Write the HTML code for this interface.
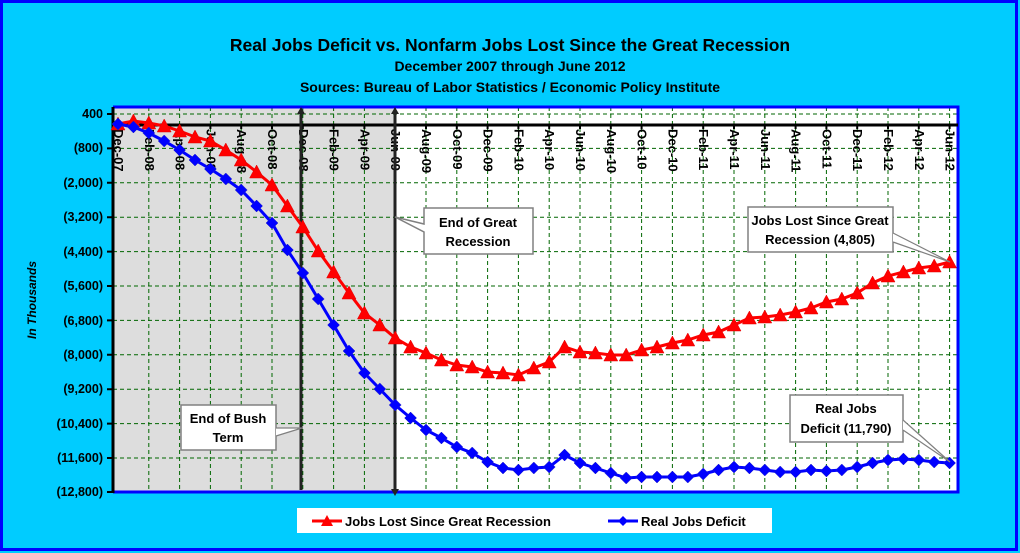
<!DOCTYPE html>
<html><head><meta charset="utf-8"><style>
html,body{margin:0;padding:0;}
body{width:1020px;height:553px;overflow:hidden;background:#00CCFF;}
svg{display:block;font-family:"Liberation Sans",Arial,sans-serif;}
</style></head><body>
<svg width="1020" height="553" viewBox="0 0 1020 553" xmlns="http://www.w3.org/2000/svg">
<defs>
<marker id="tri" markerUnits="userSpaceOnUse" markerWidth="16" markerHeight="16" refX="8" refY="8" orient="0"><path d="M8,1 L15,14 L1,14 Z" fill="#FF0000" stroke="#E00000" stroke-width="0.5"/></marker>
<marker id="dia" markerUnits="userSpaceOnUse" markerWidth="14" markerHeight="14" refX="7" refY="7" orient="0"><path d="M7,1 L13,7 L7,13 L1,7 Z" fill="#0000FF" stroke="#2020C0" stroke-width="0.5"/></marker>
<marker id="tri2" markerUnits="userSpaceOnUse" markerWidth="16" markerHeight="16" refX="8" refY="8" orient="0"><path d="M8,2 L14,13 L2,13 Z" fill="#FF0000"/></marker>
<marker id="dia2" markerUnits="userSpaceOnUse" markerWidth="14" markerHeight="14" refX="7" refY="7" orient="0"><path d="M7,2 L12,7 L7,12 L2,7 Z" fill="#0000FF"/></marker>
</defs>
<rect x="1.5" y="1.5" width="1015" height="548" fill="#00CCFF" stroke="#0000FF" stroke-width="3"/>
<text x="510" y="51" text-anchor="middle" font-size="17.5" font-weight="bold">Real Jobs Deficit vs. Nonfarm Jobs Lost Since the Great Recession</text>
<text x="510" y="71" text-anchor="middle" font-size="14" font-weight="bold">December 2007 through June 2012</text>
<text x="510" y="92" text-anchor="middle" font-size="14" font-weight="bold">Sources: Bureau of Labor Statistics / Economic Policy Institute</text>
<rect x="113" y="107" width="845" height="385" fill="#FFFFFF"/>
<rect x="113" y="107" width="282" height="385" fill="#DDDDDD"/>
<g stroke="#006600" stroke-width="1" stroke-dasharray="4,3" fill="none">
<path d="M113,114H958M113,148.4H958M113,182.8H958M113,217.2H958M113,251.6H958M113,286H958M113,320.4H958M113,354.8H958M113,389.2H958M113,423.6H958M113,458H958"/>
<path d="M148.8,107V492M179.6,107V492M210.4,107V492M241.2,107V492M272,107V492M302.8,107V492M333.6,107V492M364.4,107V492M395.2,107V492M426,107V492M456.8,107V492M487.6,107V492M518.4,107V492M549.2,107V492M580,107V492M610.8,107V492M641.6,107V492M672.4,107V492M703.2,107V492M734,107V492M764.8,107V492M795.6,107V492M826.4,107V492M857.2,107V492M888,107V492M918.8,107V492M949.6,107V492"/>
</g>
<path d="M113,107H958V492H113" fill="none" stroke="#0000FF" stroke-width="3"/>
<line x1="113" y1="107" x2="113" y2="493" stroke="#000" stroke-width="3"/>
<line x1="113" y1="125" x2="958" y2="125" stroke="#000" stroke-width="3"/>
<g stroke="#000" stroke-width="2">
<path d="M107,114H113M107,148.4H113M107,182.8H113M107,217.2H113M107,251.6H113M107,286H113M107,320.4H113M107,354.8H113M107,389.2H113M107,423.6H113M107,458H113M107,492H113"/>
<path d="M148.8,125v4M179.6,125v4M210.4,125v4M241.2,125v4M272,125v4M302.8,125v4M333.6,125v4M364.4,125v4M395.2,125v4M426,125v4M456.8,125v4M487.6,125v4M518.4,125v4M549.2,125v4M580,125v4M610.8,125v4M641.6,125v4M672.4,125v4M703.2,125v4M734,125v4M764.8,125v4M795.6,125v4M826.4,125v4M857.2,125v4M888,125v4M918.8,125v4M949.6,125v4"/>
</g>
<g font-size="12.5" font-weight="bold" text-anchor="end">
<text x="103" y="118">400</text><text x="103" y="152">(800)</text><text x="103" y="187">(2,000)</text><text x="103" y="221">(3,200)</text><text x="103" y="256">(4,400)</text><text x="103" y="290">(5,600)</text><text x="103" y="325">(6,800)</text><text x="103" y="359">(8,000)</text><text x="103" y="393">(9,200)</text><text x="103" y="428">(10,400)</text><text x="103" y="462">(11,600)</text><text x="103" y="496">(12,800)</text>
</g>
<text transform="translate(36,300) rotate(-90)" text-anchor="middle" font-size="12" font-weight="bold" font-style="italic">In Thousands</text>
<g font-size="13" font-weight="bold">
<text transform="translate(114,129) rotate(90)">Dec-07</text>
<text transform="translate(144.8,129) rotate(90)">Feb-08</text>
<text transform="translate(175.6,129) rotate(90)">Apr-08</text>
<text transform="translate(206.4,129) rotate(90)">Jun-08</text>
<text transform="translate(237.2,129) rotate(90)">Aug-08</text>
<text transform="translate(268,129) rotate(90)">Oct-08</text>
<text transform="translate(298.8,129) rotate(90)">Dec-08</text>
<text transform="translate(329.6,129) rotate(90)">Feb-09</text>
<text transform="translate(360.4,129) rotate(90)">Apr-09</text>
<text transform="translate(391.2,129) rotate(90)">Jun-09</text>
<text transform="translate(422,129) rotate(90)">Aug-09</text>
<text transform="translate(452.8,129) rotate(90)">Oct-09</text>
<text transform="translate(483.6,129) rotate(90)">Dec-09</text>
<text transform="translate(514.4,129) rotate(90)">Feb-10</text>
<text transform="translate(545.2,129) rotate(90)">Apr-10</text>
<text transform="translate(576,129) rotate(90)">Jun-10</text>
<text transform="translate(606.8,129) rotate(90)">Aug-10</text>
<text transform="translate(637.6,129) rotate(90)">Oct-10</text>
<text transform="translate(668.4,129) rotate(90)">Dec-10</text>
<text transform="translate(699.2,129) rotate(90)">Feb-11</text>
<text transform="translate(730,129) rotate(90)">Apr-11</text>
<text transform="translate(760.8,129) rotate(90)">Jun-11</text>
<text transform="translate(791.6,129) rotate(90)">Aug-11</text>
<text transform="translate(822.4,129) rotate(90)">Oct-11</text>
<text transform="translate(853.2,129) rotate(90)">Dec-11</text>
<text transform="translate(884,129) rotate(90)">Feb-12</text>
<text transform="translate(914.8,129) rotate(90)">Apr-12</text>
<text transform="translate(945.6,129) rotate(90)">Jun-12</text>
</g>
<g stroke="#222" stroke-width="3">
<line x1="301" y1="112" x2="301" y2="490"/>
<line x1="395" y1="112" x2="395" y2="490"/>
</g>
<path d="M301,107l-4,7h8zM395,107l-4,7h8zM395,496l-4,-7h8z" fill="#222"/>
<polyline fill="none" stroke="#FF0000" stroke-width="3" marker-start="url(#tri)" marker-mid="url(#tri)" marker-end="url(#tri)" points="118,124 133.4,121 148.8,123 164.2,126 179.6,131 195,137 210.4,141 225.8,150 241.2,160 256.6,172 272,185 287.4,206 302.8,227 318.2,251 333.6,272 349,293 364.4,313 379.8,325 395.2,338 410.6,347 426,353 441.4,360 456.8,365 472.2,367 487.6,372 503,373 518.4,375 533.8,368 549.2,362 564.6,347 580,352 595.4,353 610.8,355 626.2,355 641.6,350 657,347 672.4,343 687.8,340 703.2,335 718.6,332 734,325 749.4,318 764.8,317 780.2,315 795.6,312 811,308 826.4,302 841.8,299 857.2,293 872.6,283 888,276 903.4,272 918.8,268 934.2,266 949.6,262"/>
<polyline fill="none" stroke="#0000FF" stroke-width="3" marker-start="url(#dia)" marker-mid="url(#dia)" marker-end="url(#dia)" points="118,124 133.4,127 148.8,133 164.2,141 179.6,150 195,160 210.4,169 225.8,179 241.2,190 256.6,206 272,223 287.4,250 302.8,273 318.2,299 333.6,325 349,351 364.4,373 379.8,389 395.2,405 410.6,418 426,430 441.4,438 456.8,447 472.2,453 487.6,462 503,468 518.4,470 533.8,468 549.2,467 564.6,455 580,463 595.4,468 610.8,473 626.2,478 641.6,477 657,477 672.4,477 687.8,477 703.2,474 718.6,470 734,467 749.4,468 764.8,470 780.2,472 795.6,472 811,470 826.4,471 841.8,470 857.2,467 872.6,463 888,460 903.4,459 918.8,460 934.2,462 949.6,463"/>
<g fill="#FFFFFF" stroke="#808080" stroke-width="1.5">
<path d="M424,208H533V254H424V232L395,217L424,224Z"/>
<rect x="748" y="207" width="145" height="45"/>
<rect x="790" y="395" width="113" height="47"/>
<rect x="181" y="405" width="95" height="45"/>
</g>
<g stroke="#808080" stroke-width="1.2" fill="#FFFFFF">
<path d="M893,233L950,262L893,242"/>
<path d="M903,420L950,462L903,430"/>
<path d="M276,428L302,428L276,436"/>
</g>
<g font-size="13" font-weight="bold" text-anchor="middle">
<text x="478" y="227">End of Great</text><text x="478" y="246">Recession</text>
<text x="820" y="225">Jobs Lost Since Great</text><text x="820" y="244">Recession (4,805)</text>
<text x="846" y="413">Real Jobs</text><text x="846" y="433">Deficit (11,790)</text>
<text x="228" y="423">End of Bush</text><text x="228" y="442">Term</text>
</g>
<rect x="297" y="508" width="475" height="25" fill="#FFFFFF"/>
<polyline points="312,521 327,521 342,521" fill="none" stroke="#FF0000" stroke-width="3" marker-mid="url(#tri2)"/>
<polyline points="608,521 623,521 638,521" fill="none" stroke="#0000FF" stroke-width="3" marker-mid="url(#dia2)"/>
<g font-size="13" font-weight="bold">
<text x="345" y="526">Jobs Lost Since Great Recession</text>
<text x="641" y="526">Real Jobs Deficit</text>
</g>
</svg>
</body></html>
